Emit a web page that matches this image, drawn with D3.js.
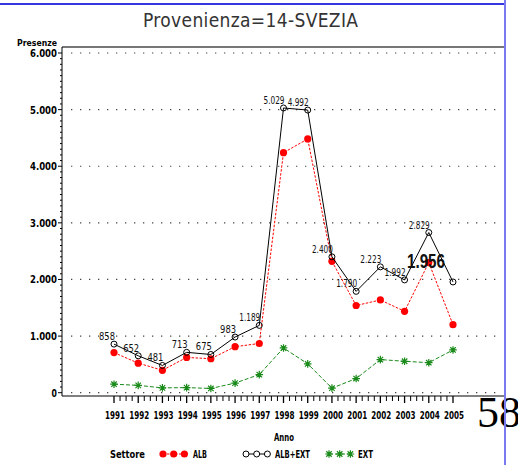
<!DOCTYPE html>
<html>
<head>
<meta charset="utf-8">
<script src="https://cdn.jsdelivr.net/npm/d3@7"></script>
<style>
  body { margin: 0; background: #fff; }
  svg { display: block; }
</style>
</head>
<body>
<div id="chart"></div>
<script>
var years = [1991, 1992, 1993, 1994, 1995, 1996, 1997, 1998, 1999, 2000, 2001, 2002, 2003, 2004, 2005];
var albValues = [708, 522, 396, 623, 600, 813, 869, 4239, 4482, 2320, 1540, 1638, 1437, 2299, 1201];
var totValues = [858, 652, 481, 713, 675, 983, 1189, 5029, 4992, 2400, 1790, 2223, 1992, 2829, 1956];
var extValues = [150, 130, 85, 90, 75, 170, 320, 790, 510, 80, 250, 585, 555, 530, 755];
var totLabels = ["858", "652", "481", "713", "675", "983", "1.189", "5.029", "4.992", "2.400", "1.790", "2.223", "1.992", "2.829", "1.956"];
var yTicks = [0, 1000, 2000, 3000, 4000, 5000, 6000];
var yTickLabels = ["0", "1.000", "2.000", "3.000", "4.000", "5.000", "6.000"];
var legendItems = ["ALB", "ALB+EXT", "EXT"];

var width = 518, height = 465;
var sasFont = "'DejaVu Sans Condensed', 'Liberation Sans Narrow', sans-serif";

var svg = d3.select("#chart")
    .append("svg")
    .attr("width", width)
    .attr("height", height)
    .style("font-family", sasFont);

var x = d3.scaleLinear()
    .domain([1991, 2005])
    .range([114, 453]);

var y = d3.scaleLinear()
    .domain([0, 6000])
    .range([392.7, 53]);

var frameLeft = 62, frameRight = 504, frameTop = 47, frameBottom = 396;

// squeeze text to the width SAS gave it
function fit(sel, w) {
    return sel.attr("textLength", w).attr("lengthAdjust", "spacingAndGlyphs");
}

// slide decorations
svg.append("line")
    .attr("x1", 0).attr("x2", 505).attr("y1", 4).attr("y2", 4)
    .attr("stroke", "#3535dd").attr("stroke-width", 2);

// title
svg.append("text")
    .attr("x", 143).attr("y", 27)
    .attr("textLength", 215).attr("lengthAdjust", "spacing")
    .attr("font-size", 19)
    .attr("fill", "#333")
    .style("font-weight", "300")
    .text("Provenienza=14-SVEZIA");

// grid dots
svg.append("g")
    .selectAll("line")
    .data(yTicks)
    .join("line")
    .attr("x1", 71).attr("x2", 502)
    .attr("y1", d => y(d)).attr("y2", d => y(d))
    .attr("stroke", "#444")
    .attr("stroke-width", 1.2)
    .attr("stroke-dasharray", "1.3,7.7");

// frame
svg.append("line")
    .attr("x1", frameLeft).attr("x2", frameRight).attr("y1", frameTop).attr("y2", frameTop)
    .attr("stroke", "#777").attr("stroke-width", 2);
svg.append("line")
    .attr("x1", frameLeft).attr("x2", frameLeft).attr("y1", frameTop).attr("y2", frameBottom)
    .attr("stroke", "#000").attr("stroke-width", 1);
svg.append("line")
    .attr("x1", frameLeft).attr("x2", frameRight).attr("y1", frameBottom).attr("y2", frameBottom)
    .attr("stroke", "#000").attr("stroke-width", 1);

// y axis ticks
var yMinor = d3.range(0, 6001, 100).filter(d => d % 1000 !== 0);
svg.append("g")
    .selectAll("line")
    .data(yMinor)
    .join("line")
    .attr("x1", frameLeft - 2).attr("x2", frameLeft)
    .attr("y1", d => y(d)).attr("y2", d => y(d))
    .attr("stroke", "#000");
svg.append("g")
    .selectAll("line")
    .data(yTicks)
    .join("line")
    .attr("x1", frameLeft - 4).attr("x2", frameLeft)
    .attr("y1", d => y(d)).attr("y2", d => y(d))
    .attr("stroke", "#000");
svg.append("g")
    .selectAll("text")
    .data(yTicks)
    .join("text")
    .attr("x", 57)
    .attr("y", d => y(d) + 4)
    .attr("text-anchor", "end")
    .attr("font-size", 11)
    .attr("font-weight", "bold")
    .text((d, i) => yTickLabels[i])
    .each(function (d, i) { fit(d3.select(this), yTickLabels[i].length * 5.4); });

fit(svg.append("text")
    .attr("x", 57).attr("y", 46)
    .attr("text-anchor", "end")
    .attr("font-size", 8)
    .attr("font-weight", "bold")
    .text("Presenze"), 40);

// x axis ticks
var xMinor = d3.range(1991, 2005, 0.25).filter(d => d % 1 !== 0);
svg.append("g")
    .selectAll("line")
    .data(xMinor)
    .join("line")
    .attr("x1", d => x(d)).attr("x2", d => x(d))
    .attr("y1", frameBottom).attr("y2", frameBottom + 5)
    .attr("stroke", "#000");
svg.append("g")
    .selectAll("line")
    .data(years)
    .join("line")
    .attr("x1", d => x(d)).attr("x2", d => x(d))
    .attr("y1", frameBottom).attr("y2", frameBottom + 7)
    .attr("stroke", "#000").attr("stroke-width", 1.3);
fit(svg.append("g")
    .selectAll("text")
    .data(years)
    .join("text")
    .attr("x", d => x(d) + 1)
    .attr("y", 419)
    .attr("text-anchor", "middle")
    .attr("font-size", 11)
    .attr("font-weight", "bold")
    .text(d => d), 20);

fit(svg.append("text")
    .attr("x", 284).attr("y", 441)
    .attr("text-anchor", "middle")
    .attr("font-size", 10)
    .attr("font-weight", "bold")
    .text("Anno"), 20);

// series
var albColor = "#ff0000", totColor = "#000000", extColor = "#1a8a1a";

var starPath = function (r) {
    var d = r * 0.72;
    return "M" + (-r) + ",0L" + r + ",0M0," + (-r) + "L0," + r +
        "M" + (-d) + "," + (-d) + "L" + d + "," + d +
        "M" + (-d) + "," + d + "L" + d + "," + (-d);
};

function drawSeries(values, color, dash, width) {
    var pts = years.map((yr, i) => ({ yr: yr, v: values[i] }));
    svg.append("path")
        .datum(pts)
        .attr("fill", "none")
        .attr("stroke", color)
        .attr("stroke-width", width)
        .attr("stroke-dasharray", dash)
        .attr("d", d3.line().x(d => x(d.yr)).y(d => y(d.v)));
    return pts;
}

var extPts = drawSeries(extValues, extColor, "4,2", 1);
svg.append("g")
    .selectAll("path")
    .data(extPts)
    .join("path")
    .attr("transform", d => "translate(" + x(d.yr) + "," + y(d.v) + ")")
    .attr("d", starPath(3.8))
    .attr("stroke", extColor)
    .attr("stroke-width", 1.2)
    .attr("fill", "none");

var albPts = drawSeries(albValues, albColor, "2.5,1.5", 1);
svg.append("g")
    .selectAll("circle")
    .data(albPts)
    .join("circle")
    .attr("cx", d => x(d.yr)).attr("cy", d => y(d.v))
    .attr("r", 3.6)
    .attr("fill", albColor);

var totPts = drawSeries(totValues, totColor, null, 1);
svg.append("g")
    .selectAll("circle")
    .data(totPts)
    .join("circle")
    .attr("cx", d => x(d.yr)).attr("cy", d => y(d.v))
    .attr("r", 3)
    .attr("fill", "none")
    .attr("stroke", totColor)
    .attr("stroke-width", 1);

// point labels for ALB+EXT
var labels = svg.append("g")
    .selectAll("text")
    .data(totPts)
    .join("text")
    .attr("x", d => x(d.yr) + 1)
    .attr("y", d => y(d.v) - 4)
    .attr("text-anchor", "end")
    .attr("font-size", 11)
    .attr("fill", "#111")
    .text((d, i) => totLabels[i])
    .each(function (d, i) {
        var s = totLabels[i];
        fit(d3.select(this), s.length === 3 ? 16 : 21);
    });

// the last label was printed bigger on the slide
fit(labels.filter((d, i) => i === totLabels.length - 1)
    .attr("x", d => x(d.yr) - 8)
    .attr("y", d => y(d.v) - 14)
    .attr("font-size", 21)
    .attr("font-weight", "bold")
    .style("font-family", "'Liberation Sans', Arial, sans-serif"), 38);

// legend
var legendY = 454;
fit(svg.append("text")
    .attr("x", 110).attr("y", legendY + 4)
    .attr("font-size", 10)
    .attr("font-weight", "bold")
    .text("Settore"), 35);

var legendX = [163, 246, 329];
var legendTextX = [193, 275, 358];
var legendTextW = [14, 35, 15];
var legendColors = [albColor, totColor, extColor];
var legendDash = ["2.5,1.5", null, "4,2"];
legendItems.forEach(function (name, i) {
    var x0 = legendX[i];
    var g = svg.append("g");
    g.append("line")
        .attr("x1", x0).attr("x2", x0 + 21.4)
        .attr("y1", legendY).attr("y2", legendY)
        .attr("stroke", legendColors[i])
        .attr("stroke-dasharray", legendDash[i]);
    [0, 1, 2].forEach(function (k) {
        var cx = x0 + k * 10.7;
        if (i === 0) {
            g.append("circle").attr("cx", cx).attr("cy", legendY).attr("r", 3.6).attr("fill", albColor);
        } else if (i === 1) {
            g.append("circle").attr("cx", cx).attr("cy", legendY).attr("r", 3)
                .attr("fill", "#fff").attr("stroke", totColor);
        } else {
            g.append("path").attr("transform", "translate(" + cx + "," + legendY + ")")
                .attr("d", starPath(3.8)).attr("stroke", extColor).attr("stroke-width", 1.2);
        }
    });
    fit(g.append("text")
        .attr("x", legendTextX[i]).attr("y", legendY + 4)
        .attr("font-size", 10)
        .attr("font-weight", "bold")
        .text(name), legendTextW[i]);
});

// page number overlay and slide border
svg.append("text")
    .attr("x", 477).attr("y", 427)
    .attr("font-size", 44)
    .attr("fill", "#000")
    .style("font-family", "'Liberation Serif', 'DejaVu Serif', serif")
    .text("58");

svg.append("line")
    .attr("x1", 505).attr("x2", 505).attr("y1", 0).attr("y2", height)
    .attr("stroke", "#7a7af0").attr("stroke-width", 2);
</script>
</body>
</html>
